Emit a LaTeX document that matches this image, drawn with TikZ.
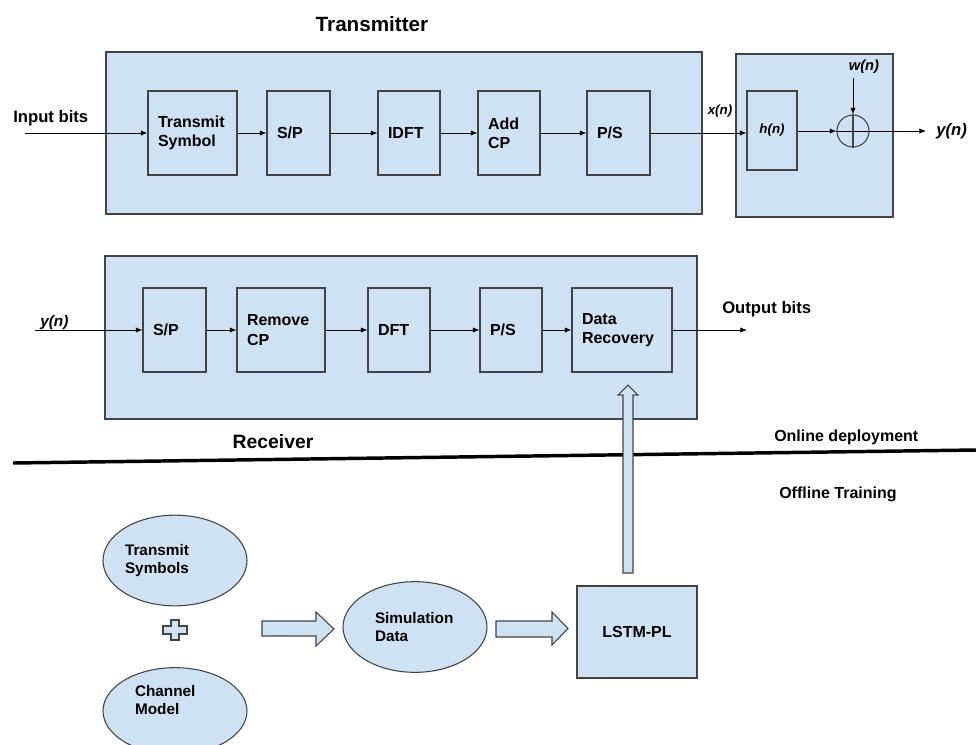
\documentclass[tikz,border=0pt]{standalone}
\usepackage{fontspec}
\setmainfont{Liberation Sans}
\usetikzlibrary{arrows.meta,shapes.geometric}
\definecolor{boxfill}{HTML}{CFE2F3}
\definecolor{boxline}{HTML}{434343}
\begin{document}
\begin{tikzpicture}[x=0.75pt,y=-0.75pt,
  frame/.style={draw=boxline, fill=boxfill, line width=0.8pt, inner sep=0pt},
  blk/.style={draw=boxline, fill=boxfill, line width=0.8pt, minimum height=63pt, inner xsep=7.5pt, inner ysep=0pt, align=left, font=\bfseries\fontsize{12pt}{14.5pt}\selectfont},
  ell/.style={ellipse, draw=boxline, fill=boxfill, line width=0.8pt, inner sep=0pt, minimum width=108pt, align=left, font=\bfseries\fontsize{11.5pt}{14pt}\selectfont},
  blockarrow/.style={draw=boxline, fill=boxfill, line width=0.8pt, line join=miter},
  arr/.style={-{Latex[length=5pt,width=4pt]}, line width=0.6pt, black},
  lbl/.style={inner sep=0pt, font=\bfseries\fontsize{12.5pt}{15pt}\selectfont},
  sig/.style={inner sep=0pt, font=\bfseries\itshape\fontsize{#1}{#1}\selectfont},
  sig/.default=11pt
]
\clip (0,0) rectangle (976,744);
\fill[white] (0,0) rectangle (976,744);

% ---------- Transmitter ----------
\node (ttitle) [inner sep=0pt, font=\bfseries\fontsize{15.5pt}{18pt}\selectfont] at (372,24) {Transmitter};
\node (tx) [frame, minimum width=447pt, minimum height=121.5pt] at (404,133) {};
\node (ch) [frame, minimum width=117.75pt, minimum height=122.25pt] at (814.5,135.5) {};

\node (ts)    [blk, text width=51.75pt] at (192.5,133) {Transmit\\Symbol};
\node (sp1)   [blk, text width=32.25pt] at (298.5,133) {S/P};
\node (idft)  [blk, text width=31.5pt]  at (409,133)   {IDFT};
\node (addcp) [blk, text width=31.5pt]  at (509,133)   {Add\\CP};
\node (ps1)   [blk, text width=32.25pt] at (618.5,133) {P/S};

\node (h) [draw=boxline, fill=boxfill, line width=0.8pt, minimum width=37.5pt, minimum height=59.25pt, inner sep=0pt, font=\bfseries\itshape\fontsize{10pt}{10pt}\selectfont] at (772,130.5) {h(n)};
\node (adder) [circle, draw=boxline, line width=0.8pt, minimum size=24pt, inner sep=0pt] at (853,131) {};
\draw[line width=0.8pt, boxline] (adder.north) -- (adder.south);

\node (inbits) [lbl, anchor=west] at (13,118) {Input bits};
\coordinate (inb) at (25,133);
\draw[arr] (inb) -- (ts.west);
\draw[arr] (ts) -- (sp1);
\draw[arr] (sp1) -- (idft);
\draw[arr] (idft) -- (addcp);
\draw[arr] (addcp) -- (ps1);
\draw[arr] (ps1.east) -- (ps1.east -| h.west);
\node (xn) [sig=10pt] at (720,111) {x(n)};
\draw[arr] (h.east |- adder.west) -- (adder.west);
\coordinate (wtop) at (853,78);
\node (wn) [sig=11pt] at (864,67) {w(n)};
\draw[arr] (wtop) -- (adder.north);
\coordinate (yout) at (926,131);
\draw[arr] (adder.west) -- (yout);
\node (ynr) [sig=12.5pt, anchor=west] at (936,131) {y(n)};

% ---------- Receiver ----------
\node (rx) [frame, minimum width=444pt, minimum height=122.25pt] at (401,337.5) {};
\node (sp2) [blk, text width=32.25pt] at (174.5,330) {S/P};
\node (rcp) [blk, text width=51pt]    at (281,330)   {Remove\\CP};
\node (dft) [blk, text width=31.5pt]  at (399,330)   {DFT};
\node (ps2) [blk, text width=31.5pt]  at (511,330)   {P/S};
\node (dr)  [blk, text width=60pt]    at (622,330)   {Data\\Recovery};

\coordinate (yin) at (35,330);
\node (ynl) [sig=11.5pt, anchor=base west] at (40,326) {y(n)};
\draw[arr] (yin) -- (sp2.west);
\draw[arr] (sp2) -- (rcp);
\draw[arr] (rcp) -- (dft);
\draw[arr] (dft) -- (ps2);
\draw[arr] (ps2) -- (dr);
\coordinate (outb) at (747,330);
\draw[arr] (dr.east) -- (outb);
\node (outbits) [lbl, anchor=west] at (722,309) {Output bits};

\node (rtitle) [inner sep=0pt, font=\bfseries\fontsize{14.5pt}{17pt}\selectfont] at (273,442) {Receiver};

% ---------- divider ----------
\coordinate (dl) at (13,463);
\coordinate (dr2) at (976,450);
\draw[line width=2.6pt] (dl) -- (dr2);
\node (online) [lbl, font=\bfseries\fontsize{12pt}{14pt}\selectfont, anchor=west] at (774,437) {Online deployment};
\node (offline) [lbl, font=\bfseries\fontsize{12pt}{14pt}\selectfont, anchor=west] at (779,494) {Offline Training};

% ---------- Offline training ----------
\node (ets) [ell, minimum height=68pt, text width=75pt] at (175,560.5) {Transmit\\Symbols};
\draw[blockarrow] (171,620) -- (179,620) -- (179,626) -- (187,626) -- (187,634) -- (179,634) -- (179,640) -- (171,640) -- (171,634) -- (163,634) -- (163,626) -- (171,626) -- cycle;
\node (ecm) [ell, minimum height=65pt] at (175,711) {};
\node (ecmtxt) [inner sep=0pt, text width=60pt, align=left, font=\bfseries\fontsize{11.5pt}{14pt}\selectfont] at (175,700) {Channel\\Model};
\draw[blockarrow] (262,621) -- (316,621) -- (316,612) -- (334,629) -- (316,646) -- (316,636) -- (262,636) -- cycle;
\node (sim) [ell, minimum height=68pt, text width=60pt] at (415,627) {Simulation\\Data};
\draw[blockarrow] (496,621) -- (552,621) -- (552,612) -- (568,628.5) -- (552,645) -- (552,637) -- (496,637) -- cycle;
\node (lstm) [draw=boxline, fill=boxfill, line width=0.8pt, minimum width=90pt, minimum height=69pt, inner sep=0pt, font=\bfseries\fontsize{12pt}{14pt}\selectfont] at (637,632) {LSTM-PL};
\draw[blockarrow] (623,573) -- (623,395) -- (618,395) -- (628,385) -- (638,395) -- (633,395) -- (633,573) -- cycle;
\end{tikzpicture}
\end{document}
